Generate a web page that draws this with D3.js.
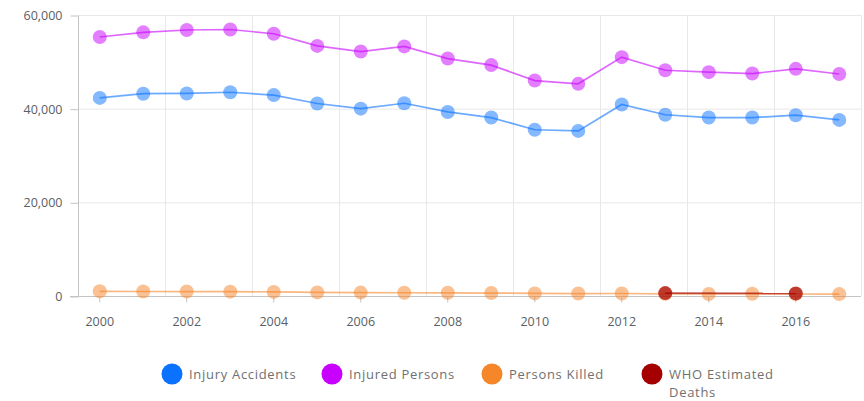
<!DOCTYPE html>
<html lang="en">
<head>
    <meta charset="UTF-8">
    <title>Road accidents</title>
    <style>
        body { margin: 0; background: #fff; }
        .lbl { font-family: "Open Sans", sans-serif; font-size: 12.5px; fill: #5a5f66; }
        .leg { font-family: "Open Sans", sans-serif; font-size: 13px; letter-spacing: 0.7px; fill: #707070; }
    </style>
</head>
<body>
    <script src="https://d3js.org/d3.v7.min.js"></script>
    <script>
        // data
        const years = [2000, 2001, 2002, 2003, 2004, 2005, 2006, 2007, 2008,
            2009, 2010, 2011, 2012, 2013, 2014, 2015, 2016, 2017];
        const injuryAccidents = [42300, 43200, 43250, 43500, 42900, 41100, 40000, 41150, 39300,
            38100, 35500, 35250, 40900, 38700, 38100, 38100, 38600, 37600];
        const injuredPersons = [55300, 56300, 56800, 56900, 56000, 53400, 52200, 53300, 50700,
            49300, 46000, 45300, 51000, 48200, 47800, 47500, 48500, 47400];
        const personsKilled = [1000, 960, 950, 930, 880, 770, 730, 690, 680,
            630, 550, 520, 530, 460, 430, 480, 430, 410];
        const whoDeaths = [null, null, null, null, null, null, null, null, null,
            null, null, null, null, 620, null, null, 560, null];
        const yTicks = [0, 20000, 40000, 60000];
        const seriesNames = ['Injury Accidents', 'Injured Persons', 'Persons Killed', 'WHO Estimated Deaths'];
        const seriesColors = ['#0a72ff', '#c800ff', '#f5862a', '#a40000'];

        const W = 864, H = 401;
        const m = { t: 15, b: 105, l: 78, r: 3 };

        const svg = d3.select('body').append('svg')
            .attr('width', W).attr('height', H);

        const x = d3.scaleBand().domain(years).range([m.l, W - m.r]).padding(0);
        const y = d3.scaleLinear().domain([0, 60000]).range([H - m.b, m.t]);
        const cx = d => x(d) + x.bandwidth() / 2;

        // grid
        const g = svg.append('g');
        g.selectAll('.hg').data(yTicks.slice(1)).enter().append('line')
            .attr('x1', m.l).attr('x2', W - m.r)
            .attr('y1', d => y(d) + 0.5).attr('y2', d => y(d) + 0.5)
            .attr('stroke', '#e8e8e8');
        const vgrid = years.filter((d, i) => i % 2 == 1);
        g.selectAll('.vg').data(vgrid).enter().append('line')
            .attr('x1', d => Math.round(x(d) + x.bandwidth()) + 0.5)
            .attr('x2', d => Math.round(x(d) + x.bandwidth()) + 0.5)
            .attr('y1', y(60000)).attr('y2', y(0))
            .attr('stroke', '#e8e8e8');

        // y axis
        const ya = svg.append('g').attr('transform', `translate(${m.l + 0.5},0.5)`)
            .call(d3.axisLeft(y).tickValues(yTicks).tickSize(8).tickPadding(8).tickFormat(d3.format(',')));
        ya.selectAll('line, path').attr('stroke', '#c4c4c4');
        ya.select('.domain').attr('d', `M0,${y(60000)}V${y(0)}`);
        ya.selectAll('text').attr('class', 'lbl').attr('font-family', null).attr('font-size', null);

        // x axis
        const xa = svg.append('g').attr('transform', `translate(0,${y(0) + 0.5})`)
            .call(d3.axisBottom(x).tickValues(years.filter((d, i) => i % 2 == 0)).tickSize(6).tickPadding(15));
        xa.selectAll('line, path').attr('stroke', '#c4c4c4');
        xa.select('.domain').attr('d', `M${m.l - 8},0H${W - m.r}`);
        xa.selectAll('text').attr('class', 'lbl').attr('font-family', null).attr('font-size', null);

        // series
        const series = [injuryAccidents, injuredPersons, personsKilled, whoDeaths];
        series.forEach((vals, si) => {
            const pts = years.map((yr, i) => ({ yr, v: vals[i] })).filter(p => p.v != null);
            const line = d3.line().x(p => cx(p.yr)).y(p => y(p.v));
            svg.append('path').datum(pts)
                .attr('d', line)
                .attr('fill', 'none')
                .attr('stroke', seriesColors[si])
                .attr('stroke-opacity', si == 3 ? 0.65 : 0.6)
                .attr('stroke-width', 1.7);
            svg.selectAll('.pt' + si).data(pts).enter().append('circle')
                .attr('cx', p => cx(p.yr)).attr('cy', p => y(p.v))
                .attr('r', 7)
                .attr('fill', seriesColors[si])
                .attr('fill-opacity', si == 3 ? 0.7 : 0.5);
        });

        // legend
        const leg = svg.append('g');
        seriesNames.forEach((name, i) => {
            const lx = 172 + i * 160, ly = 374;
            leg.append('ellipse').attr('cx', lx).attr('cy', ly).attr('rx', 10.5).attr('ry', 10.5)
                .attr('fill', seriesColors[i]);
            const t = leg.append('text').attr('class', 'leg').attr('x', lx + 17).attr('y', ly + 4.5);
            if (name == 'WHO Estimated Deaths') {
                t.append('tspan').text('WHO Estimated');
                t.append('tspan').attr('x', lx + 17).attr('dy', 18).text('Deaths');
            } else {
                t.text(name);
            }
        });
    </script>
</body>
</html>
